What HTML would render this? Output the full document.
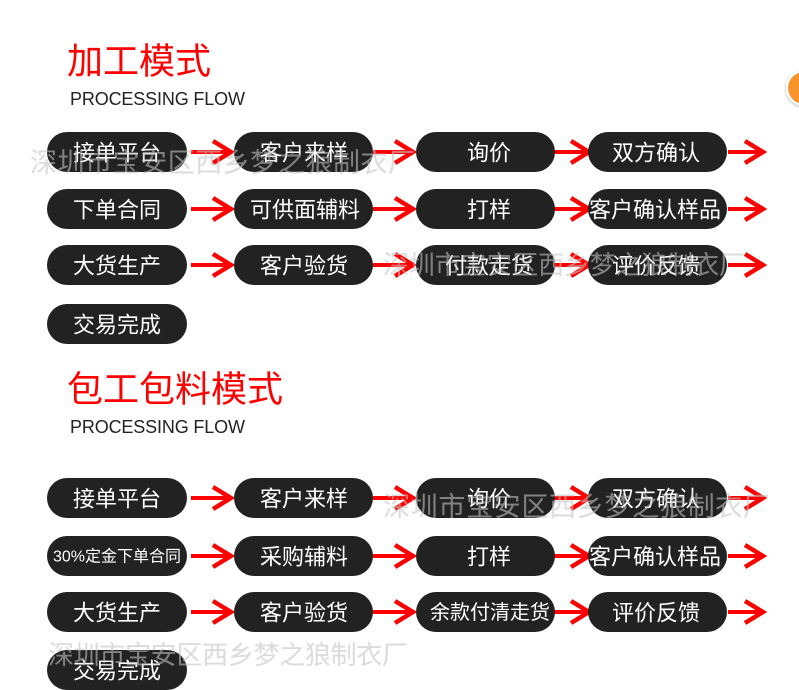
<!DOCTYPE html>
<html><head><meta charset="utf-8">
<style>
html,body{margin:0;padding:0;background:#fff;width:799px;height:690px;overflow:hidden;}
svg{display:block;}
.t{font-family:"Liberation Sans","Noto Sans CJK SC",sans-serif;fill:#fff;text-anchor:middle;dominant-baseline:central;}
.wm{font-family:"Liberation Sans","Noto Sans CJK SC",sans-serif;fill:rgba(195,195,195,0.6);dominant-baseline:central;}
</style></head>
<body>
<svg width="799" height="690" viewBox="0 0 799 690" xmlns="http://www.w3.org/2000/svg">
<defs>
  <g id="ar">
    <line x1="0" y1="0" x2="40" y2="0" stroke="#f00" stroke-width="4"/>
    <polyline points="22,-11 40,0 22,11" fill="none" stroke="#f00" stroke-width="4.5"/>
  </g>
  <g id="ar2">
    <line x1="0" y1="0" x2="34" y2="0" stroke="#f00" stroke-width="4"/>
    <polyline points="17,-11 35,0 17,11" fill="none" stroke="#f00" stroke-width="4.5"/>
  </g>
  <filter id="sh" x="-50%" y="-50%" width="200%" height="200%"><feDropShadow dx="0" dy="1" stdDeviation="1.5" flood-color="#000" flood-opacity="0.3"/></filter>
</defs>

<!-- orange circle -->
<circle cx="804" cy="88" r="18" fill="#fff" filter="url(#sh)"/>
<circle cx="804" cy="88" r="16" fill="#f7952c"/>

<!-- Section 1 titles -->
<text x="67" y="61" font-family="Liberation Sans, Noto Sans CJK SC, sans-serif" font-size="36" fill="#f00" dominant-baseline="central">加工模式</text>
<text x="70" y="105" font-family="Liberation Sans, sans-serif" font-size="18" fill="#222" textLength="175">PROCESSING FLOW</text>

<!-- Section 1 arrows -->
<g>
  <use href="#ar" x="191" y="152"/><use href="#ar" x="373" y="152"/><use href="#ar2" x="554" y="152"/><use href="#ar2" x="728" y="152"/>
  <use href="#ar" x="191" y="209"/><use href="#ar" x="373" y="209"/><use href="#ar2" x="554" y="209"/><use href="#ar2" x="728" y="209"/>
  <use href="#ar" x="191" y="265"/><use href="#ar" x="373" y="265"/><use href="#ar2" x="554" y="265"/><use href="#ar2" x="728" y="265"/>
</g>

<!-- Section 1 pills -->
<g fill="#222">
  <rect x="47" y="132" width="140" height="40" rx="20"/>
  <rect x="234" y="132" width="139" height="40" rx="20"/>
  <rect x="416" y="132" width="139" height="40" rx="20"/>
  <rect x="588" y="132" width="139" height="40" rx="20"/>
  <rect x="47" y="189" width="140" height="40" rx="20"/>
  <rect x="234" y="189" width="139" height="40" rx="20"/>
  <rect x="416" y="189" width="139" height="40" rx="20"/>
  <rect x="588" y="189" width="139" height="40" rx="20"/>
  <rect x="47" y="245" width="140" height="40" rx="20"/>
  <rect x="234" y="245" width="139" height="40" rx="20"/>
  <rect x="416" y="245" width="139" height="40" rx="20"/>
  <rect x="588" y="245" width="139" height="40" rx="20"/>
  <rect x="47" y="304" width="140" height="40" rx="20"/>
</g>
<g class="t" font-size="22">
  <text class="t" x="117" y="153">接单平台</text>
  <text class="t" x="304" y="153">客户来样</text>
  <text class="t" x="489" y="153">询价</text>
  <text class="t" x="656" y="153">双方确认</text>
  <text class="t" x="117" y="210">下单合同</text>
  <text class="t" x="305" y="210">可供面辅料</text>
  <text class="t" x="489" y="210">打样</text>
  <text class="t" x="655" y="210">客户确认样品</text>
  <text class="t" x="117" y="266">大货生产</text>
  <text class="t" x="304" y="266">客户验货</text>
  <text class="t" x="489" y="266">付款走货</text>
  <text class="t" x="656" y="266">评价反馈</text>
  <text class="t" x="117" y="325">交易完成</text>
</g>

<!-- Section 2 titles -->
<text x="67" y="389" font-family="Liberation Sans, Noto Sans CJK SC, sans-serif" font-size="36" fill="#f00" dominant-baseline="central">包工包料模式</text>
<text x="70" y="433" font-family="Liberation Sans, sans-serif" font-size="18" fill="#222" textLength="175">PROCESSING FLOW</text>

<!-- Section 2 arrows -->
<g>
  <use href="#ar" x="191" y="498"/><use href="#ar" x="373" y="498"/><use href="#ar2" x="554" y="498"/><use href="#ar2" x="728" y="498"/>
  <use href="#ar" x="191" y="556"/><use href="#ar" x="373" y="556"/><use href="#ar2" x="554" y="556"/><use href="#ar2" x="728" y="556"/>
  <use href="#ar" x="191" y="612"/><use href="#ar" x="373" y="612"/><use href="#ar2" x="554" y="612"/><use href="#ar2" x="728" y="612"/>
</g>

<!-- Section 2 pills -->
<g fill="#222">
  <rect x="47" y="478" width="140" height="40" rx="20"/>
  <rect x="234" y="478" width="139" height="40" rx="20"/>
  <rect x="416" y="478" width="139" height="40" rx="20"/>
  <rect x="588" y="478" width="139" height="40" rx="20"/>
  <rect x="47" y="536" width="140" height="40" rx="20"/>
  <rect x="234" y="536" width="139" height="40" rx="20"/>
  <rect x="416" y="536" width="139" height="40" rx="20"/>
  <rect x="588" y="536" width="139" height="40" rx="20"/>
  <rect x="47" y="592" width="140" height="40" rx="20"/>
  <rect x="234" y="592" width="139" height="40" rx="20"/>
  <rect x="416" y="592" width="139" height="40" rx="20"/>
  <rect x="588" y="592" width="139" height="40" rx="20"/>
  <rect x="47" y="650" width="140" height="40" rx="20"/>
</g>
<g font-size="22">
  <text class="t" x="117" y="499">接单平台</text>
  <text class="t" x="304" y="499">客户来样</text>
  <text class="t" x="489" y="499">询价</text>
  <text class="t" x="656" y="499">双方确认</text>
  <text class="t" x="117" y="557" font-size="16">30%定金下单合同</text>
  <text class="t" x="304" y="557">采购辅料</text>
  <text class="t" x="489" y="557">打样</text>
  <text class="t" x="655" y="557">客户确认样品</text>
  <text class="t" x="117" y="613">大货生产</text>
  <text class="t" x="304" y="613">客户验货</text>
  <text class="t" x="490" y="613" font-size="20">余款付清走货</text>
  <text class="t" x="656" y="613">评价反馈</text>
  <text class="t" x="117" y="671">交易完成</text>
</g>

<!-- Watermarks -->
<text class="wm" x="30" y="163" font-size="27" textLength="385">深圳市宝安区西乡梦之狼制衣厂</text>
<text class="wm" x="383" y="265" font-size="26" textLength="362">深圳市宝安区西乡梦之狼制衣厂</text>
<text class="wm" x="383" y="507" font-size="27" textLength="387">深圳市宝安区西乡梦之狼制衣厂</text>
<text class="wm" x="48" y="655" font-size="26" textLength="360">深圳市宝安区西乡梦之狼制衣厂</text>
</svg>
</body></html>
